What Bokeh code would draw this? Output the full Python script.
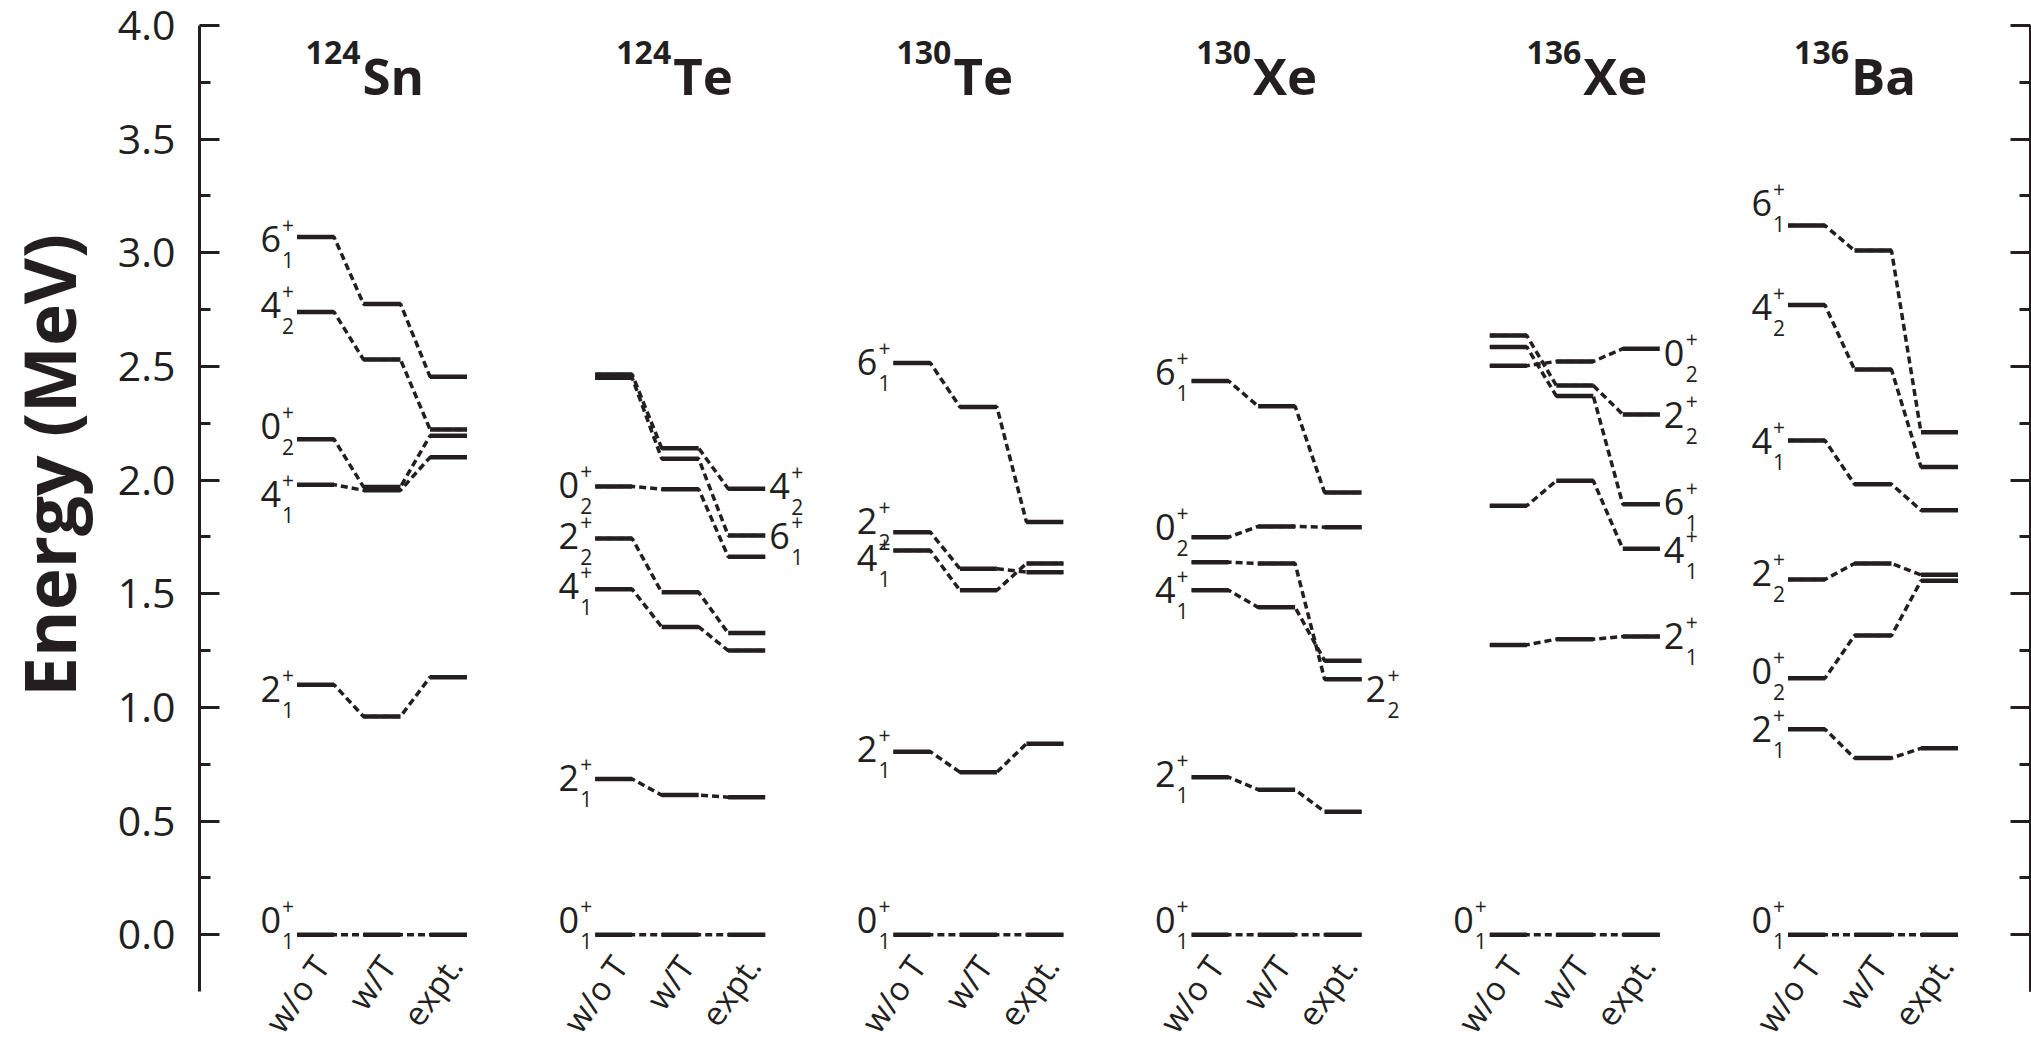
import math
from bokeh.plotting import figure
from bokeh.models import Range1d, LinearAxis, FixedTicker, ColumnDataSource
from bokeh.core.properties import value
from bokeh.embed import file_html
from bokeh.resources import INLINE

INK = "#231f20"
FONT = "Open Sans"

# ---------------- data ----------------
columns = ["w/o T", "w/T", "expt."]
mass_numbers = ["124", "124", "130", "130", "136", "136"]
elements = ["Sn", "Te", "Te", "Xe", "Xe", "Ba"]
y_axis_title = "Energy (MeV)"

# 124Sn
sn124_spin = [6, 4, 0, 4, 2, 0]
sn124_index = [1, 2, 2, 1, 1, 1]
sn124_wo_T = [3.07, 2.74, 2.18, 1.98, 1.10, 0.0]
sn124_w_T = [2.775, 2.53, 1.97, 1.955, 0.96, 0.0]
sn124_expt = [2.455, 2.223, 2.195, 2.10, 1.133, 0.0]

# 124Te
te124_spin = [4, 6, 0, 2, 4, 2, 0]
te124_index = [2, 1, 2, 2, 1, 1, 1]
te124_wo_T = [2.465, 2.45, 1.972, 1.743, 1.52, 0.685, 0.0]
te124_w_T = [2.14, 2.094, 1.96, 1.506, 1.354, 0.614, 0.0]
te124_expt = [1.962, 1.756, 1.663, 1.327, 1.25, 0.605, 0.0]

# 130Te
te130_spin = [6, 2, 4, 2, 0]
te130_index = [1, 2, 1, 1, 1]
te130_wo_T = [2.515, 1.771, 1.69, 0.805, 0.0]
te130_w_T = [2.322, 1.61, 1.515, 0.715, 0.0]
te130_expt = [1.816, 1.595, 1.633, 0.84, 0.0]

# 130Xe
xe130_spin = [6, 0, 2, 4, 2, 0]
xe130_index = [1, 2, 2, 1, 1, 1]
xe130_wo_T = [2.436, 1.749, 1.639, 1.515, 0.693, 0.0]
xe130_w_T = [2.325, 1.796, 1.633, 1.44, 0.638, 0.0]
xe130_expt = [1.945, 1.793, 1.124, 1.205, 0.541, 0.0]

# 136Xe
xe136_spin = [0, 2, 6, 4, 2, 0]
xe136_index = [2, 2, 1, 1, 1, 1]
xe136_wo_T = [2.503, 2.636, 2.586, 1.887, 1.275, 0.0]
xe136_w_T = [2.522, 2.416, 2.37, 1.997, 1.30, 0.0]
xe136_expt = [2.578, 2.289, 1.894, 1.698, 1.312, 0.0]

# 136Ba
ba136_spin = [6, 4, 4, 2, 0, 2, 0]
ba136_index = [1, 2, 1, 2, 2, 1, 1]
ba136_wo_T = [3.12, 2.77, 2.174, 1.563, 1.128, 0.904, 0.0]
ba136_w_T = [3.01, 2.486, 1.982, 1.633, 1.316, 0.777, 0.0]
ba136_expt = [2.21, 2.058, 1.867, 1.583, 1.557, 0.82, 0.0]

y_ticks = [0.0, 0.5, 1.0, 1.5, 2.0, 2.5, 3.0, 3.5, 4.0]
y_minor_ticks = [0.25, 0.75, 1.25, 1.75, 2.25, 2.75, 3.25, 3.75]

# ---------------- layout (label placement, not data) ----------------
label_side = [
    ["L", "L", "L", "L", "L", "L"],
    ["R", "R", "L", "L", "L", "L", "L"],
    ["L", "L", "L", "L", "L"],
    ["L", "L", "R", "L", "L", "L"],
    ["R", "R", "R", "R", "R", "L"],
    ["L", "L", "L", "L", "L", "L", "L"],
]
label_dy = [
    [2, -7, -13, 9, 4, -15],
    [-3, 0, -1, -3, -3, -1, -15],
    [-1, -11, 7, -3, -15],
    [-9, -10, 10, 0, -3, -15],
    [4, 1, -2, 1, 0, -15],
    [-23, 2, 0, -6, -7, 0, -15],
]
title_dx = [-20.5, -8, -26, -24.5, 7.5, -23]

panels = [
    (sn124_spin, sn124_index, [sn124_wo_T, sn124_w_T, sn124_expt]),
    (te124_spin, te124_index, [te124_wo_T, te124_w_T, te124_expt]),
    (te130_spin, te130_index, [te130_wo_T, te130_w_T, te130_expt]),
    (xe130_spin, xe130_index, [xe130_wo_T, xe130_w_T, xe130_expt]),
    (xe136_spin, xe136_index, [xe136_wo_T, xe136_w_T, xe136_expt]),
    (ba136_spin, ba136_index, [ba136_wo_T, ba136_w_T, ba136_expt]),
]

X0 = 315.0       # first column centre (screen-like x units)
PANEL_DX = 298.2
COL_DX = 66.5
HALF = 18.5

W, H = 2031, 1040
p = figure(width=W, height=H, output_backend="svg", toolbar_location=None,
           x_axis_type=None, y_axis_type=None, title=None,
           min_border_left=199, min_border_right=1, min_border_top=25, min_border_bottom=49,
           x_range=Range1d(199, 2030), y_range=Range1d(-0.25, 4.0))
p.outline_line_color = None
p.xgrid.visible = False
p.ygrid.visible = False
p.background_fill_color = "white"
p.border_fill_color = "white"


def style_axis(ax, tick_len):
    ax.axis_line_color = INK
    ax.axis_line_width = 3
    ax.major_tick_line_color = INK
    ax.major_tick_line_width = 3
    ax.minor_tick_line_color = INK
    ax.minor_tick_line_width = 3
    ax.major_tick_in = 20
    ax.major_tick_out = 0
    ax.minor_tick_in = tick_len
    ax.minor_tick_out = 0


left = LinearAxis(ticker=FixedTicker(ticks=y_ticks, minor_ticks=y_minor_ticks))
left.major_label_overrides = {t: f"{t:.1f}" for t in y_ticks}
style_axis(left, 11)
left.major_label_text_font = FONT
left.major_label_text_font_size = "41px"
left.major_label_text_color = INK
left.major_label_standoff = 24
p.add_layout(left, "left")

# right frame line: label-less axes (major positions long, minor positions short)
right_major = LinearAxis(ticker=FixedTicker(ticks=[], minor_ticks=y_ticks))
style_axis(right_major, 20)
right_major.major_label_standoff = 0
right_minor = LinearAxis(ticker=FixedTicker(ticks=[], minor_ticks=y_minor_ticks))
style_axis(right_minor, 11)
right_minor.major_label_standoff = 0
p.add_layout(right_major, "right")
p.add_layout(right_minor, "right")

chain_xs, chain_ys = [], []
lx0, lx1, ly = [], [], []
mainL = dict(x=[], y=[], yo=[], text=[])
mainR = dict(x=[], y=[], yo=[], text=[])
smallL = dict(x=[], y=[], yo=[], text=[])
smallR = dict(x=[], y=[], yo=[], text=[])
col_lab = dict(x=[], y=[], text=[])
t_sup = dict(x=[], y=[], text=[])
t_main = dict(x=[], y=[], text=[])

for ip, (spin, idx, energies) in enumerate(panels):
    centres = [X0 + ip * PANEL_DX + j * COL_DX for j in range(3)]
    for k in range(len(spin)):
        xs, ys = [], []
        for j in range(3):
            e = energies[j][k]
            xs += [centres[j] - HALF, centres[j] + HALF]
            ys += [e, e]
            lx0.append(centres[j] - HALF)
            lx1.append(centres[j] + HALF)
            ly.append(e)
        chain_xs.append(xs)
        chain_ys.append(ys)
        side = label_side[ip][k]
        dy = label_dy[ip][k]
        if side == "L":
            xa = centres[0] - HALF
            e = energies[0][k]
            tgt_main, tgt_small = mainL, smallL
        else:
            xa = centres[2] + HALF
            e = energies[2][k]
            tgt_main, tgt_small = mainR, smallR
        tgt_main["x"].append(xa); tgt_main["y"].append(e); tgt_main["yo"].append(dy)
        tgt_main["text"].append(str(spin[k]))
        tgt_small["x"] += [xa, xa]; tgt_small["y"] += [e, e]
        tgt_small["yo"] += [dy - 14, dy + 21]; tgt_small["text"] += ["+", str(idx[k])]
    for j in range(3):
        col_lab["x"].append(centres[j]); col_lab["y"].append(0.0); col_lab["text"].append(columns[j])
    split = centres[1] + title_dx[ip]
    t_sup["x"].append(split); t_sup["y"].append(4.0); t_sup["text"].append(mass_numbers[ip])
    t_main["x"].append(split); t_main["y"].append(4.0); t_main["text"].append(elements[ip])

# dashed connecting polylines, then solid levels on top
p.multi_line(xs=chain_xs, ys=chain_ys, line_color=INK, line_width=3.5, line_dash="7 4")
p.segment(x0=lx0, y0=ly, x1=lx1, y1=ly, line_color=INK, line_width=4.5)


def txt(src, align, size, xo, yo, style="normal", angle=0.0, level="glyph"):
    s = ColumnDataSource(src)
    return p.text(x="x", y="y", text="text", source=s, text_align=align, text_baseline="middle",
                  text_font=value(FONT), text_font_size=value(size), text_color=INK,
                  text_font_style=style, x_offset=xo, y_offset=yo, angle=angle, level=level)


txt(mainL, "right", "36px", -16, "yo")
txt(smallL, "left", "21px", -15, "yo")
txt(mainR, "left", "36px", 4, "yo")
txt(smallR, "left", "21px", 26, "yo")
txt(col_lab, "right", "33px", 6, 25, angle=0.95, level="overlay")
txt(t_sup, "right", "32px", -1, 27, style="bold")
txt(t_main, "left", "51px", 1, 49, style="bold")
txt(dict(x=[48], y=[2.065], text=[y_axis_title]), "center", "71px", 0, 0,
    style="bold", angle=math.pi / 2, level="overlay")

open("out.html", "w").write(file_html(p, INLINE))
